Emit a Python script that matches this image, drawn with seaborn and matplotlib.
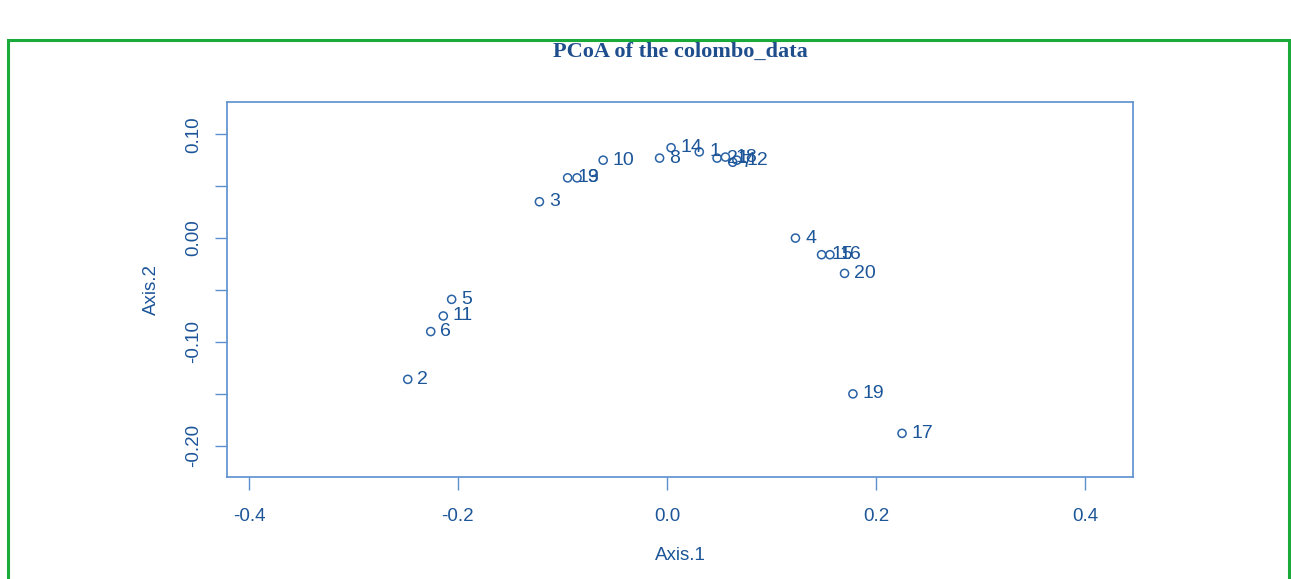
import matplotlib.pyplot as plt
import pandas as pd
import seaborn as sns
from matplotlib.patches import Rectangle

sns.set_theme(style="white")
plt.rcParams["font.family"] = ["Liberation Sans", "DejaVu Sans"]

# PCoA coordinates
sample_ids = [
    "1", "2", "3", "4", "5", "6", "7", "8", "9", "10", "11",
    "12", "13", "14", "15", "16", "17", "18", "19", "20", "21",
]
axis1 = [
    0.031, -0.248, -0.122, 0.123, -0.206, -0.226, 0.063, -0.007, -0.086, -0.061, -0.214,
    0.067, -0.095, 0.004, 0.148, 0.156, 0.225, 0.056, 0.178, 0.170, 0.048,
]
axis2 = [
    0.083, -0.136, 0.035, 0.000, -0.059, -0.090, 0.073, 0.077, 0.058, 0.075, -0.075,
    0.075, 0.058, 0.087, -0.016, -0.016, -0.188, 0.078, -0.150, -0.034, 0.077,
]
x_ticks = [-0.4, -0.2, 0.0, 0.2, 0.4]
y_ticks = [0.10, 0.05, 0.00, -0.05, -0.10, -0.15, -0.20]
y_tick_labels = ["0.10", "", "0.00", "", "-0.10", "", "-0.20"]

df = pd.DataFrame({"id": sample_ids, "Axis.1": axis1, "Axis.2": axis2})

POINT_COL = "#2a62a6"
TEXT_COL = "#1c5598"
BOX_COL = "#5b8fcf"

fig = plt.figure(figsize=(12.91, 5.79), dpi=100)
ax = fig.add_axes([0.1758, 0.1762, 0.7018, 0.6476])

sns.scatterplot(
    data=df, x="Axis.1", y="Axis.2", ax=ax,
    marker="o", s=34, facecolor="none", edgecolor=POINT_COL, linewidth=1.1,
)
for _, row in df.iterrows():
    ax.annotate(
        row["id"], (row["Axis.1"], row["Axis.2"]),
        xytext=(7, 0), textcoords="offset points",
        ha="left", va="center", fontsize=14, color=TEXT_COL,
    )

ax.set_xlim(-0.421, 0.446)
ax.set_ylim(-0.230, 0.131)
ax.set_xticks(x_ticks)
ax.set_xticklabels([f"{v:.1f}" for v in x_ticks])
ax.set_yticks(y_ticks)
ax.set_yticklabels(y_tick_labels, rotation=90, va="center")

ax.tick_params(axis="both", direction="out", length=9, width=1, color=BOX_COL,
               labelcolor=TEXT_COL, labelsize=13.5, left=True, bottom=True)
ax.tick_params(axis="x", pad=13)
ax.tick_params(axis="y", pad=9)
for sp in ax.spines.values():
    sp.set_color(BOX_COL)
    sp.set_linewidth(1.2)

ax.set_xlabel("Axis.1", color=TEXT_COL, fontsize=13.5, labelpad=16)
ax.set_ylabel("Axis.2", color=TEXT_COL, fontsize=13.5, labelpad=18)
ax.grid(False)

fig.text(0.527, 0.91, "PCoA of the colombo_data", ha="center", va="center",
         fontsize=16, fontweight="bold", color="#1f4e8c",
         family=["Liberation Serif", "DejaVu Serif"])

# green frame around the figure
fig.patches.append(Rectangle((8 / 1291, -0.05), 1281 / 1291, 1.05 - 40 / 579,
                             transform=fig.transFigure, fill=False,
                             edgecolor="#1aaa3a", linewidth=2.2))

fig.savefig("out.png", dpi=100)
